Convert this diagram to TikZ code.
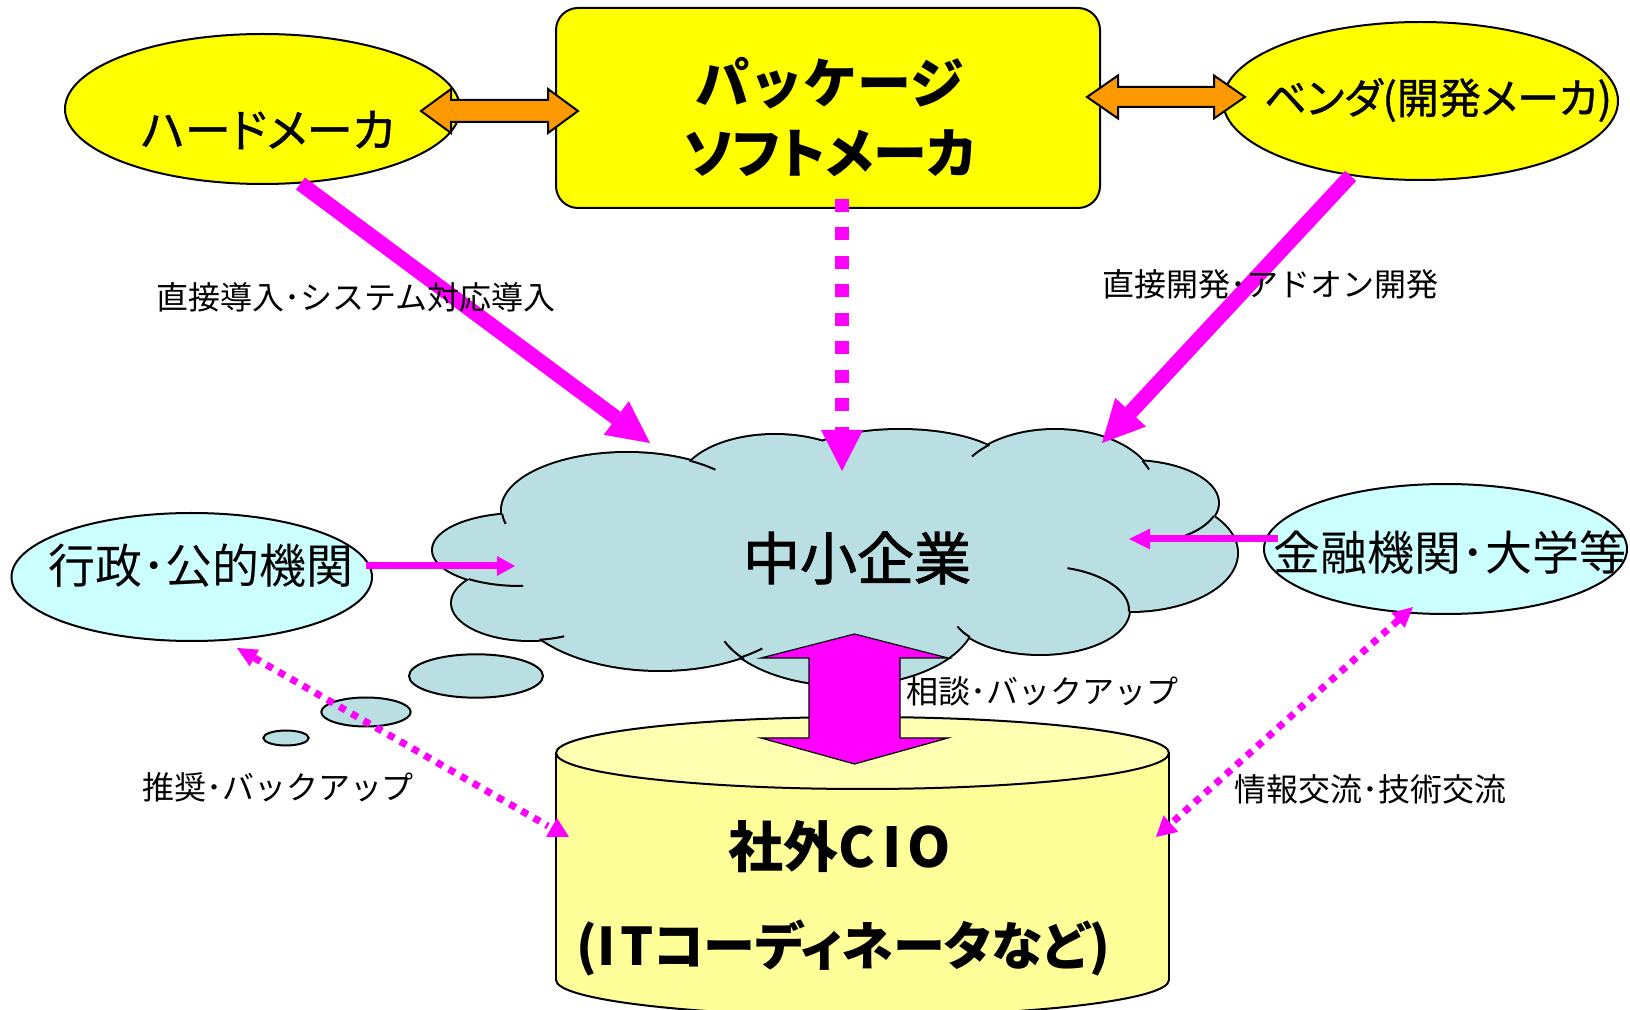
\documentclass[tikz,border=0pt]{standalone}
\usepackage{fontspec}
\setmainfont{Noto Sans CJK JP}
\newfontfamily\jpprop{Noto Sans CJK JP}[RawFeature=+palt]
\newfontfamily\jpmid{Noto Sans CJK JP}[FakeBold=1.6]
\newfontfamily\jppropmid{Noto Sans CJK JP}[RawFeature=+palt, FakeBold=1]
\usetikzlibrary{arrows.meta,shapes.geometric}

\definecolor{makeryellow}{RGB}{255,255,0}
\definecolor{cloudblue}{RGB}{185,223,226}
\definecolor{palecyan}{RGB}{204,255,255}
\definecolor{canbody}{RGB}{255,255,153}
\definecolor{cantop}{RGB}{255,255,178}
\definecolor{linkorange}{RGB}{255,153,0}
\definecolor{linkpink}{RGB}{255,0,255}

% horizontal block double arrow: left x, right x, centre y, head length, shaft half height, head half height
\newcommand\hblockarrow[6]{%
  (#1,#3) -- ({#1+#4},{#3-#6}) -- ({#1+#4},{#3-#5}) -- ({#2-#4},{#3-#5}) --
  ({#2-#4},{#3-#6}) -- (#2,#3) -- ({#2-#4},{#3+#6}) -- ({#2-#4},{#3+#5}) --
  ({#1+#4},{#3+#5}) -- ({#1+#4},{#3+#6}) -- cycle}
% one lobe of the cloud
\newcommand\lobe[4]{(#1,#2) ellipse[x radius=#3, y radius=#4]}
% short inner stroke continuing a lobe inside the cloud
\newcommand\lobetail[6]{%
  \draw[line width=1pt] plot[domain=#5:#6, samples=30, smooth]
    ({#1+#3*cos(\x)},{#2-#4*sin(\x)});}

\tikzset{
  outline/.style={draw=black, line width=1pt},
  txt/.style={inner sep=0pt, text=black},
  smalltxt/.style={txt, font=\fontsize{16pt}{18pt}\selectfont},
  bigtip/.style={-{Triangle[width=21pt,length=21pt,line width=0pt]}},
  thickpink/.style={draw=linkpink, line width=7.5pt, bigtip},
  thinpink/.style={draw=linkpink, line width=3.5pt},
  dotpink/.style={draw=linkpink, line width=3.5pt, dash pattern=on 3.5pt off 3.5pt},
}

\begin{document}
\begin{tikzpicture}[x=0.5pt, y=-0.5pt]
\useasboundingbox (0,0) rectangle (1630,1010);
\fill[white] (0,0) rectangle (1630,1010);

% ---- suppliers on top row
\node[ellipse, outline, fill=makeryellow, minimum width=197.5pt, minimum height=75pt, inner sep=0pt] (hard) at (262.5,109) {};
\node[ellipse, outline, fill=makeryellow, minimum width=197.5pt, minimum height=79pt, inner sep=0pt] (vendor) at (1420.5,101) {};
\node[rectangle, rounded corners=11pt, outline, fill=makeryellow, minimum width=272pt, minimum height=100pt, inner sep=0pt] (pkg) at (828,108) {};

\fill[linkorange, outline] \hblockarrow{421}{578}{111}{30}{11}{22};
\fill[linkorange, outline] \hblockarrow{1087}{1245}{97}{31}{10}{21.5};

% ---- cloud: lobe outlines, then the fill on top leaves only the outer rim
\draw[line width=2pt]
  \lobe{627}{510}{125}{57} \lobe{775}{485}{95}{50} \lobe{900}{470}{110}{40}
  \lobe{1055}{490}{100}{60} \lobe{1130}{503}{88}{42} \lobe{1130}{553}{107}{58}
  \lobe{1040}{610}{89}{44} \lobe{845}{615}{130}{70} \lobe{660}{590}{150}{80}
  \lobe{530}{603}{78}{37} \lobe{520}{550}{87}{36};
\fill[cloudblue]
  \lobe{627}{510}{125}{57} \lobe{775}{485}{95}{50} \lobe{900}{470}{110}{40}
  \lobe{1055}{490}{100}{60} \lobe{1130}{503}{88}{42} \lobe{1130}{553}{107}{58}
  \lobe{1040}{610}{89}{44} \lobe{845}{615}{130}{70} \lobe{660}{590}{150}{80}
  \lobe{530}{603}{78}{37} \lobe{520}{550}{87}{36} \lobe{840}{560}{290}{85};
\lobetail{627}{510}{125}{57}{184}{194}
\lobetail{627}{510}{125}{57}{60}{45}
\lobetail{1055}{490}{100}{60}{131}{146}
\lobetail{1055}{490}{100}{60}{29}{20}
\lobetail{1130}{503}{88}{42}{-18}{-52}
\lobetail{1040}{610}{89}{44}{72}{-2}
\lobetail{1040}{610}{89}{44}{-142}{-158}
\lobetail{845}{615}{130}{70}{-141}{-158}
\lobetail{660}{590}{150}{80}{-58}{-47}
\lobetail{530}{603}{78}{37}{-83}{-64}
\lobetail{520}{550}{87}{36}{-126}{-88}
\coordinate (sme) at (857,558);

% thought bubbles
\draw[outline, fill=cloudblue] (476,676) ellipse[x radius=67, y radius=21.7];
\draw[outline, fill=cloudblue] (366,712) ellipse[x radius=44.7, y radius=14.5];
\draw[outline, fill=cloudblue] (286,738) ellipse[x radius=22.7, y radius=7.5];

% ---- external CIO cylinder
\fill[canbody] (556,753) rectangle (1169,980);
\fill[canbody] (862.5,980) ellipse[x radius=306.5, y radius=36];
\begin{scope}
  \clip (540,980) rectangle (1190,1030);
  \draw[outline] (862.5,980) ellipse[x radius=306.5, y radius=36];
\end{scope}
\draw[outline] (556,753) -- (556,980);
\draw[outline] (1169,753) -- (1169,980);
\draw[outline, fill=cantop] (862.5,753) ellipse[x radius=306.5, y radius=36];
\coordinate (cio) at (862.5,870);

% ---- side organisations
\node[ellipse, outline, fill=palecyan, minimum width=180.25pt, minimum height=64pt, inner sep=0pt] (gov) at (191.75,577) {};
\node[ellipse, outline, fill=palecyan, minimum width=181.5pt, minimum height=65pt, inner sep=0pt] (bank) at (1445.5,549) {};

% ---- connectors
\coordinate (hardtip) at (650,443);
\coordinate (vendtip) at (1102,443);
\coordinate (pkgfoot) at (842,199);
\coordinate (pkgtip) at (842,471);
\draw[thickpink] (hard.-63) -- (hardtip);
\draw[thickpink] (vendor.-133) -- (vendtip);
\draw[draw=linkpink, line width=7pt, dash pattern=on 6.5pt off 7.75pt,
      -{Triangle[width=21pt,length=20.5pt,line width=0pt]}] (pkgfoot) -- (pkgtip);

\coordinate (govout) at (366,566);
\coordinate (govtip) at (515,566);
\coordinate (bankout) at (1278,539);
\coordinate (banktip) at (1129,539);
\draw[thinpink, -{Triangle[width=10pt,length=9pt,line width=0pt]}] (govout) -- (govtip);
\draw[thinpink, -{Triangle[width=10.5pt,length=10.5pt,line width=0pt]}] (bankout) -- (banktip);

\coordinate (govdot) at (237,648);
\coordinate (ciol) at (548,826);
\coordinate (bankdot) at (1413,607);
\coordinate (cior) at (1156,837);
\draw[dotpink, {Triangle[width=9.5pt,length=10pt,line width=0pt]}-] (govdot) -- (ciol);
\fill[linkpink] (557,818) -- (569,837) -- (546,837) -- cycle;
\draw[dotpink, {Triangle[width=10pt,length=10pt,line width=0pt]}-{Triangle[width=11pt,length=10pt,line width=0pt]}] (bankdot) -- (cior);

% consultation arrow between SME and CIO
\fill[linkpink, draw=black, line width=0.6pt]
  (854.5,634) -- (948,658) -- (900,658) -- (900,738) -- (948,738) -- (854.5,764)
  -- (761,738) -- (809,738) -- (809,658) -- (761,658) -- cycle;

% ---- texts
\node[txt, font=\jppropmid\fontsize{23pt}{27pt}\selectfont] (hardtxt) at (268,130) {ハードメーカ};
\node[txt, align=center, font=\fontsize{27pt}{35pt}\selectfont\bfseries] (pkgtxt) at (830,117)
  {パッケージ\\{\jpprop\bfseries ソフトメーカ}};
\node[txt, font=\jppropmid\fontsize{21pt}{25pt}\selectfont] (vendtxt) at (1438,100) {ベンダ(開発メーカ)};
\node[txt, font=\jpmid\fontsize{28.5pt}{32pt}\selectfont] (smetxt) at (sme) {中小企業};
\node[txt, font=\fontsize{23.5pt}{27pt}\selectfont] (govtxt) at (201,566) {行政･公的機関};
\node[txt, font=\fontsize{23.5pt}{27pt}\selectfont] (banktxt) at (1450,553) {金融機関･大学等};
\node[txt, font=\fontsize{27.5pt}{32pt}\selectfont\bfseries] (ciotxt) at (840,847)
  {社外C\hspace{0.12em}I\hspace{0.12em}O};
\node[txt, font=\jpprop\fontsize{26pt}{30pt}\selectfont\bfseries] (coordtxt) at (843,948)
  {(I\hspace{0.1em}Tコーディネータなど)};

\node[smalltxt] (lblintro) at (356,297) {直接導入･システム対応導入};
\node[smalltxt] (lbldev) at (1270,284) {直接開発･アドオン開発};
\node[smalltxt] (lblconsult) at (1042,691) {相談･バックアップ};
\node[smalltxt] (lblrecommend) at (278,787) {推奨･バックアップ};
\node[smalltxt] (lblexchange) at (1370,789) {情報交流･技術交流};
\end{tikzpicture}
\end{document}
